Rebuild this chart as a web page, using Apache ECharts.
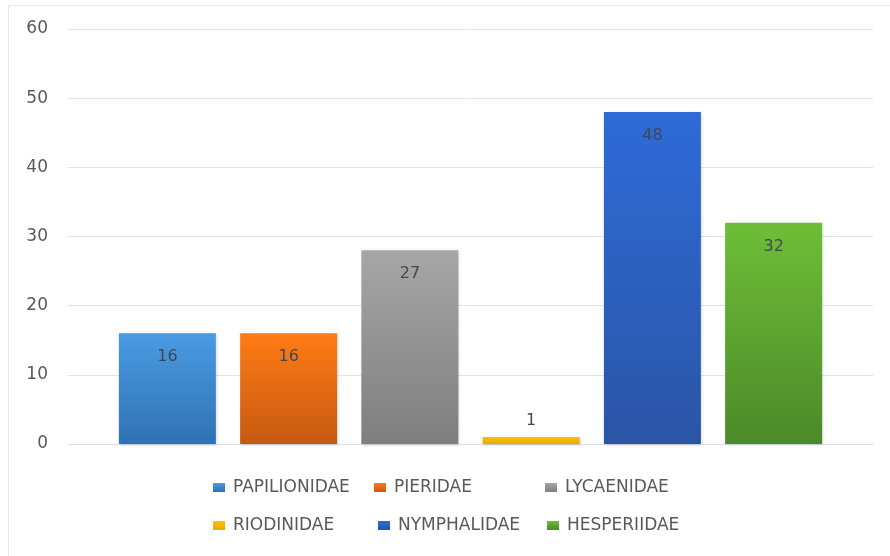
<!DOCTYPE html>
<html>
<head>
<meta charset="utf-8">
<script src="https://cdn.jsdelivr.net/npm/echarts@6/dist/echarts.min.js"></script>
<style>html,body{margin:0;padding:0;background:#fff}#c{width:890px;height:556px}</style>
</head>
<body>
<div id="c"></div>
<script>
const families = ['PAPILIONIDAE','PIERIDAE','LYCAENIDAE','RIODINIDAE','NYMPHALIDAE','HESPERIIDAE'];
const barValues = [16,16,28,1,48,32];
const labelTexts = ['16','16','27','1','48','32'];
const yMin = 0, yMax = 60, yStep = 10;
const colorsTop = ['#4A9BE3','#FF7B16','#A6A6A6','#FFC000','#2E6BD8','#6DBE37'];
const colorsBottom = ['#2F72B3','#C65911','#7E7E7E','#E6AC00','#2A55A6','#4C8A29'];

const chart = echarts.init(document.getElementById('c'), null, {renderer:'canvas'});
const FONT = 'DejaVu Sans';
const legendPos = [[213,479],[374,479],[545,479],[213,517],[378,517],[547,517]];

const series = families.map((name, i) => ({
  type: 'bar',
  name: name,
  data: [barValues[i]],
  barWidth: 97,
  barGap: '25%',
  itemStyle: {
    color: new echarts.graphic.LinearGradient(0,0,0,1,[{offset:0,color:colorsTop[i]},{offset:1,color:colorsBottom[i]}]),
    shadowBlur: 3, shadowColor: 'rgba(0,0,0,0.18)', shadowOffsetX: 1, shadowOffsetY: 1
  },
  label: {
    show: true,
    position: barValues[i] < 5 ? 'top' : 'insideTop',
    distance: barValues[i] < 5 ? 8 : 16,
    formatter: labelTexts[i],
    color: '#404856',
    fontFamily: FONT,
    fontSize: 16
  }
}));

const legends = families.map((name, i) => ({
  data: [name],
  left: legendPos[i][0],
  top: legendPos[i][1],
  itemWidth: 12,
  itemHeight: 9,
  itemGap: 0,
  padding: 0,
  icon: 'rect',
  selectedMode: false,
  textStyle: {color:'#595959', fontFamily: FONT, fontSize: 17, padding:[0,0,0,3]}
}));

chart.setOption({
  animation: false,
  backgroundColor: '#fff',
  graphic: [{
    type: 'rect', shape: {x: 8.5, y: 5.5, width: 1000, height: 1000},
    style: {fill: 'none', stroke: '#e3e7ef', lineWidth: 1}, silent: true
  }],
  legend: legends,
  grid: {left: 68, right: 17, top: 29, bottom: 112, containLabel: false},
  xAxis: {
    type: 'category', data: [''],
    axisLine: {show: true, lineStyle: {color: '#dcdfe8'}},
    axisTick: {show: false}, axisLabel: {show: false}
  },
  yAxis: {
    type: 'value', min: yMin, max: yMax, interval: yStep,
    axisLine: {show: false}, axisTick: {show: false},
    axisLabel: {color: '#595959', fontFamily: FONT, fontSize: 17, margin: 20},
    splitLine: {lineStyle: {color: '#e0e3ec', width: 1}}
  },
  series: series
});
</script>
</body>
</html>
